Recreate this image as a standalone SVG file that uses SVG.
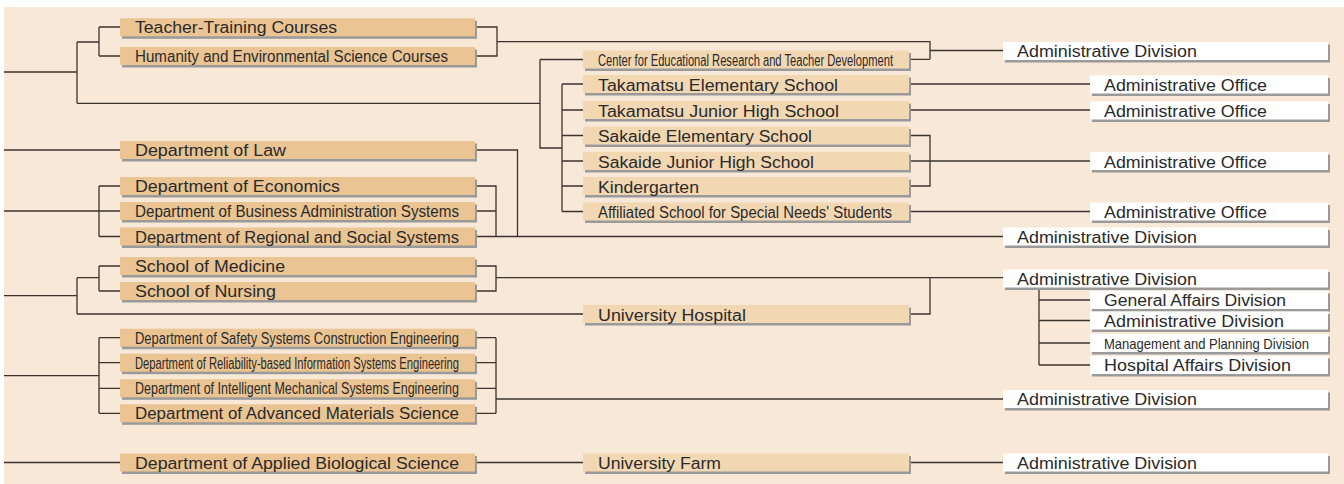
<svg xmlns="http://www.w3.org/2000/svg" width="1344" height="484" viewBox="0 0 1344 484">
<style>
.bg{fill:#F8E8D7}
.sh{fill:#9A9A9A}
.tan{fill:#EAC493}
.lt{fill:#F2D7B3}
.wh{fill:#FFFFFF}
.t{font-family:"Liberation Sans",Arial,sans-serif;font-size:16px;fill:#2A2A2A}
.s{font-size:14.5px}
.c path{fill:none;stroke:#3A3431;stroke-width:1.3}
</style>
<rect class="bg" x="4" y="7" width="1340" height="477"/>
<g class="c" id="connectors">
<path d="M4,72H77M77,42V103.3M77,42H99M99,27V56M99,27H120M99,56H120M77,103.3H540"/>
<path d="M475,27H497V56H475M497,41.7H930V59.3M909,59.3H930M930,50.5H1003"/>
<path d="M540,59.5H583M540,59.5V148H562M562,84V211.5M562,84H583M562,110H583M562,135.5H583M562,161H583M562,186H583M562,211.5H583"/>
<path d="M909,84H1090M909,110H1090M909,135.5H930V186H909M909,161H1090M909,211.5H1090"/>
<path d="M4,150H120M475,150H517.5V236.5"/>
<path d="M4,211H120M99,186V236.5M99,186H120M99,236.5H120M475,186H496V236.5M475,211H496M475,236.5H1003"/>
<path d="M4,295.7H77M77,277.7V314M77,277.7H99M99,266V291M99,266H120M99,291H120M77,314H583"/>
<path d="M475,266H496V291H475M496,277.7H1003M909,314H930V277.7"/>
<path d="M1039,288V365M1039,300H1090M1039,320.5H1090M1039,343H1090M1039,365H1090"/>
<path d="M4,375.7H99M99,337.7V413.3M99,337.7H120M99,362.7H120M99,388.3H120M99,413.3H120M475,337.7H496M475,362.7H496M475,388.3H496M475,413.3H496M496,337.7V413.3M496,399H1003"/>
<path d="M4,462.5H120M475,462.5H583M909,462.5H1003"/>
</g>
<g id="n-teacher"><rect class="sh" x="122" y="20.8" width="355" height="18"/><rect class="tan" x="120" y="18.3" width="355" height="18"/><text class="t" x="135" y="33.3" textLength="202" lengthAdjust="spacingAndGlyphs">Teacher-Training Courses</text></g>
<g id="n-humanity"><rect class="sh" x="122" y="49.5" width="355" height="18"/><rect class="tan" x="120" y="47" width="355" height="18"/><text class="t" x="135" y="62" textLength="313" lengthAdjust="spacingAndGlyphs">Humanity and Environmental Science Courses</text></g>
<g id="n-law"><rect class="sh" x="122" y="143.5" width="355" height="18"/><rect class="tan" x="120" y="141" width="355" height="18"/><text class="t" x="135" y="156" textLength="151" lengthAdjust="spacingAndGlyphs">Department of Law</text></g>
<g id="n-econ"><rect class="sh" x="122" y="179.5" width="355" height="18"/><rect class="tan" x="120" y="177" width="355" height="18"/><text class="t" x="135" y="192" textLength="205" lengthAdjust="spacingAndGlyphs">Department of Economics</text></g>
<g id="n-business"><rect class="sh" x="122" y="204.5" width="355" height="18"/><rect class="tan" x="120" y="202" width="355" height="18"/><text class="t" x="135" y="217" textLength="324" lengthAdjust="spacingAndGlyphs">Department of Business Administration Systems</text></g>
<g id="n-regional"><rect class="sh" x="122" y="230" width="355" height="18"/><rect class="tan" x="120" y="227.5" width="355" height="18"/><text class="t" x="135" y="242.5" textLength="324" lengthAdjust="spacingAndGlyphs">Department of Regional and Social Systems</text></g>
<g id="n-medicine"><rect class="sh" x="122" y="259.5" width="355" height="18"/><rect class="tan" x="120" y="257" width="355" height="18"/><text class="t" x="135" y="272" textLength="150" lengthAdjust="spacingAndGlyphs">School of Medicine</text></g>
<g id="n-nursing"><rect class="sh" x="122" y="284.5" width="355" height="18"/><rect class="tan" x="120" y="282" width="355" height="18"/><text class="t" x="135" y="297" textLength="141" lengthAdjust="spacingAndGlyphs">School of Nursing</text></g>
<g id="n-safety"><rect class="sh" x="122" y="331.2" width="355" height="18"/><rect class="tan" x="120" y="328.7" width="355" height="18"/><text class="t" x="135" y="343.7" textLength="324" lengthAdjust="spacingAndGlyphs">Department of Safety Systems Construction Engineering</text></g>
<g id="n-reliability"><rect class="sh" x="122" y="356.2" width="355" height="18"/><rect class="tan" x="120" y="353.7" width="355" height="18"/><text class="t" x="135" y="368.7" textLength="324" lengthAdjust="spacingAndGlyphs">Department of Reliability-based Information Systems Engineering</text></g>
<g id="n-intelligent"><rect class="sh" x="122" y="381.8" width="355" height="18"/><rect class="tan" x="120" y="379.3" width="355" height="18"/><text class="t" x="135" y="394.3" textLength="324" lengthAdjust="spacingAndGlyphs">Department of Intelligent Mechanical Systems Engineering</text></g>
<g id="n-advanced"><rect class="sh" x="122" y="406.8" width="355" height="18"/><rect class="tan" x="120" y="404.3" width="355" height="18"/><text class="t" x="135" y="419.3" textLength="324" lengthAdjust="spacingAndGlyphs">Department of Advanced Materials Science</text></g>
<g id="n-applied"><rect class="sh" x="122" y="456" width="355" height="18"/><rect class="tan" x="120" y="453.5" width="355" height="18"/><text class="t" x="135" y="468.5" textLength="324" lengthAdjust="spacingAndGlyphs">Department of Applied Biological Science</text></g>
<g id="n-center"><rect class="sh" x="585" y="53" width="326" height="18"/><rect class="lt" x="583" y="50.5" width="326" height="18"/><text class="t" x="598" y="65.5" textLength="295" lengthAdjust="spacingAndGlyphs">Center for Educational Research and Teacher Development</text></g>
<g id="n-takamatsu-el"><rect class="sh" x="585" y="77.5" width="326" height="18"/><rect class="lt" x="583" y="75" width="326" height="18"/><text class="t" x="598" y="90.5" textLength="240" lengthAdjust="spacingAndGlyphs">Takamatsu Elementary School</text></g>
<g id="n-takamatsu-jr"><rect class="sh" x="585" y="103.5" width="326" height="18"/><rect class="lt" x="583" y="101" width="326" height="18"/><text class="t" x="598" y="116.5" textLength="241" lengthAdjust="spacingAndGlyphs">Takamatsu Junior High School</text></g>
<g id="n-sakaide-el"><rect class="sh" x="585" y="129" width="326" height="18"/><rect class="lt" x="583" y="126.5" width="326" height="18"/><text class="t" x="598" y="142" textLength="214" lengthAdjust="spacingAndGlyphs">Sakaide Elementary School</text></g>
<g id="n-sakaide-jr"><rect class="sh" x="585" y="154.5" width="326" height="18"/><rect class="lt" x="583" y="152" width="326" height="18"/><text class="t" x="598" y="167.5" textLength="216" lengthAdjust="spacingAndGlyphs">Sakaide Junior High School</text></g>
<g id="n-kindergarten"><rect class="sh" x="585" y="179.5" width="326" height="18"/><rect class="lt" x="583" y="177" width="326" height="18"/><text class="t" x="598" y="192.5" textLength="101" lengthAdjust="spacingAndGlyphs">Kindergarten</text></g>
<g id="n-affiliated"><rect class="sh" x="585" y="205" width="326" height="18"/><rect class="lt" x="583" y="202.5" width="326" height="18"/><text class="t" x="598" y="218" textLength="294" lengthAdjust="spacingAndGlyphs">Affiliated School for Special Needs' Students</text></g>
<g id="n-hospital"><rect class="sh" x="585" y="307.5" width="326" height="18"/><rect class="lt" x="583" y="305" width="326" height="18"/><text class="t" x="598" y="320.5" textLength="148" lengthAdjust="spacingAndGlyphs">University Hospital</text></g>
<g id="n-farm"><rect class="sh" x="585" y="456" width="326" height="18"/><rect class="lt" x="583" y="453.5" width="326" height="18"/><text class="t" x="598" y="469" textLength="123" lengthAdjust="spacingAndGlyphs">University Farm</text></g>
<g id="n-admdiv1"><rect class="sh" x="1005" y="44.5" width="325" height="18"/><rect class="wh" x="1003" y="42" width="325" height="18"/><text class="t" x="1017" y="57" textLength="180" lengthAdjust="spacingAndGlyphs">Administrative Division</text></g>
<g id="n-office1"><rect class="sh" x="1092" y="78" width="238" height="18"/><rect class="wh" x="1090" y="75.5" width="238" height="18"/><text class="t" x="1104" y="90.5" textLength="163" lengthAdjust="spacingAndGlyphs">Administrative Office</text></g>
<g id="n-office2"><rect class="sh" x="1092" y="104" width="238" height="18"/><rect class="wh" x="1090" y="101.5" width="238" height="18"/><text class="t" x="1104" y="116.5" textLength="163" lengthAdjust="spacingAndGlyphs">Administrative Office</text></g>
<g id="n-office3"><rect class="sh" x="1092" y="154.5" width="238" height="18"/><rect class="wh" x="1090" y="152" width="238" height="18"/><text class="t" x="1104" y="167.5" textLength="163" lengthAdjust="spacingAndGlyphs">Administrative Office</text></g>
<g id="n-office4"><rect class="sh" x="1092" y="205" width="238" height="18"/><rect class="wh" x="1090" y="202.5" width="238" height="18"/><text class="t" x="1104" y="218" textLength="163" lengthAdjust="spacingAndGlyphs">Administrative Office</text></g>
<g id="n-admdiv2"><rect class="sh" x="1005" y="230" width="325" height="18"/><rect class="wh" x="1003" y="227.5" width="325" height="18"/><text class="t" x="1017" y="242.5" textLength="180" lengthAdjust="spacingAndGlyphs">Administrative Division</text></g>
<g id="n-admdiv3"><rect class="sh" x="1005" y="272" width="325" height="18"/><rect class="wh" x="1003" y="269.5" width="325" height="18"/><text class="t" x="1017" y="284.5" textLength="180" lengthAdjust="spacingAndGlyphs">Administrative Division</text></g>
<g id="n-general"><rect class="sh" x="1092" y="293.5" width="238" height="18"/><rect class="wh" x="1090" y="291" width="238" height="18"/><text class="t" x="1104" y="306" textLength="182" lengthAdjust="spacingAndGlyphs">General Affairs Division</text></g>
<g id="n-admdiv-h"><rect class="sh" x="1092" y="314" width="238" height="18"/><rect class="wh" x="1090" y="311.5" width="238" height="18"/><text class="t" x="1104" y="326.5" textLength="180" lengthAdjust="spacingAndGlyphs">Administrative Division</text></g>
<g id="n-management"><rect class="sh" x="1092" y="336.5" width="238" height="18"/><rect class="wh" x="1090" y="334" width="238" height="18"/><text class="t s" x="1104" y="348.5" textLength="205" lengthAdjust="spacingAndGlyphs">Management and Planning Division</text></g>
<g id="n-hospital-aff"><rect class="sh" x="1092" y="358.5" width="238" height="18"/><rect class="wh" x="1090" y="356" width="238" height="18"/><text class="t" x="1104" y="371" textLength="187" lengthAdjust="spacingAndGlyphs">Hospital Affairs Division</text></g>
<g id="n-admdiv4"><rect class="sh" x="1005" y="392.5" width="325" height="18"/><rect class="wh" x="1003" y="390" width="325" height="18"/><text class="t" x="1017" y="405" textLength="180" lengthAdjust="spacingAndGlyphs">Administrative Division</text></g>
<g id="n-admdiv5"><rect class="sh" x="1005" y="456" width="325" height="18"/><rect class="wh" x="1003" y="453.5" width="325" height="18"/><text class="t" x="1017" y="468.5" textLength="180" lengthAdjust="spacingAndGlyphs">Administrative Division</text></g>
</svg>
